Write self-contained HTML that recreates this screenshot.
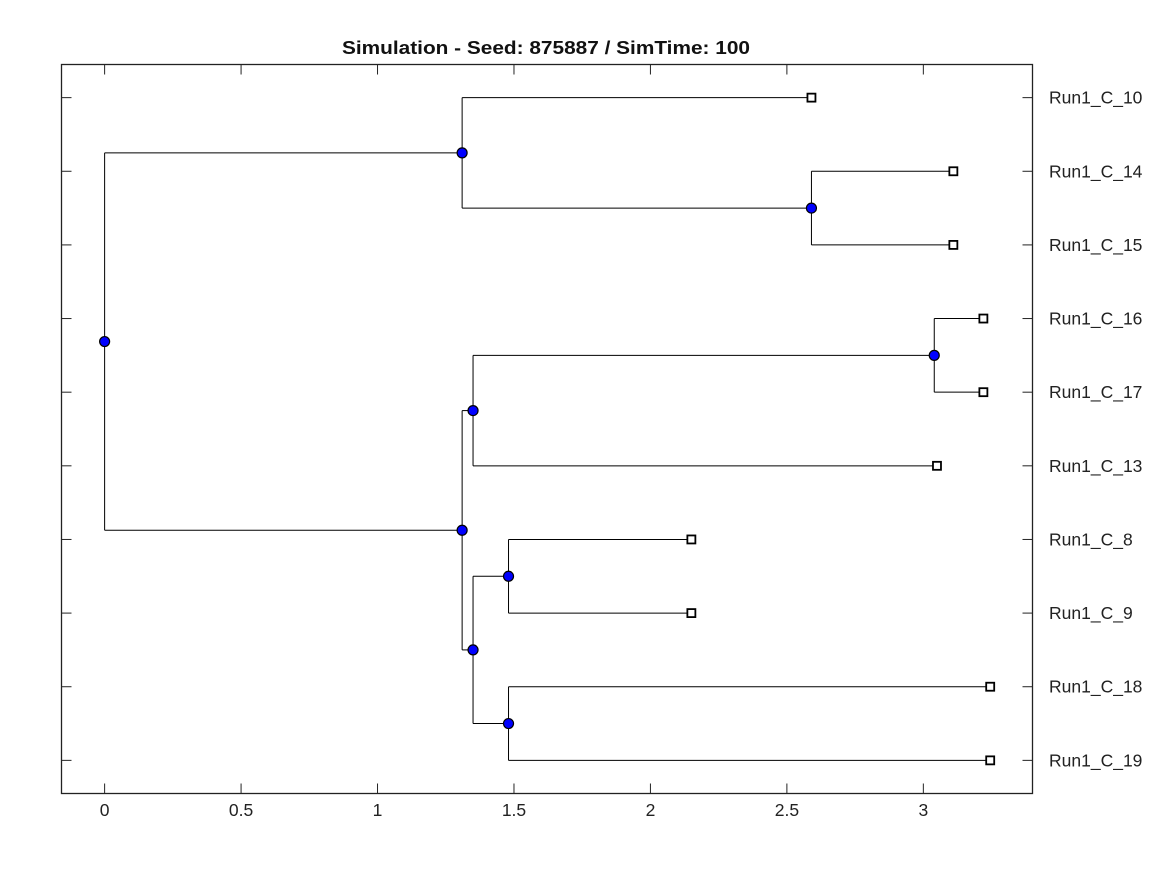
<!DOCTYPE html>
<html><head><meta charset="utf-8"><style>
body{margin:0;background:#fff;}
svg text{font-family:"Liberation Sans",sans-serif;}
</style></head><body>
<svg id="chart" width="1167" height="875" xmlns="http://www.w3.org/2000/svg">
<rect width="1167" height="875" fill="#fff"/>
<text x="546" y="54" text-anchor="middle" font-size="18" font-weight="bold" fill="#111" textLength="408" lengthAdjust="spacingAndGlyphs">Simulation - Seed: 875887 / SimTime: 100</text>
<g id="marks"></g>
<rect x="61.5" y="64.5" width="971" height="729" fill="none" stroke="#222" stroke-width="1.3"/>
<g id="axes"></g>
</svg>
<script>
const leafNames=["Run1_C_10","Run1_C_14","Run1_C_15","Run1_C_16","Run1_C_17","Run1_C_13","Run1_C_8","Run1_C_9","Run1_C_18","Run1_C_19"];
const leafHeights=[2.59,3.11,3.11,3.22,3.22,3.05,2.15,2.15,3.245,3.245];
const mergeLeft=[1,3,11,6,8,13,12,0,17];
const mergeRight=[2,4,5,7,9,14,15,10,16];
const mergeHeights=[2.59,3.04,1.35,1.48,1.48,1.35,1.31,1.31,0];
const xTicks=[0,0.5,1,1.5,2,2.5,3];
const xTickLabels=["0","0.5","1","1.5","2","2.5","3"];
const NS="http://www.w3.org/2000/svg";
const L=61.5,R=1032.5,T=64.5,B=793.5,xmin=-0.158,xmax=3.4,ymin=-0.45,ymax=leafNames.length-0.55;
const X=v=>L+(v-xmin)/(xmax-xmin)*(R-L);
const Y=i=>T+(i-ymin)/(ymax-ymin)*(B-T);
function mk(tag,attrs,parent){const e=document.createElementNS(NS,tag);for(const k in attrs)e.setAttribute(k,attrs[k]);parent.appendChild(e);return e;}
const marks=document.getElementById('marks'),axes=document.getElementById('axes');
const nx=leafHeights.slice(),ny=leafNames.map((_,i)=>i);
for(let m=0;m<mergeHeights.length;m++){
  const a=mergeLeft[m],b=mergeRight[m],h=mergeHeights[m];
  ny.push((ny[a]+ny[b])/2);nx.push(h);
  const v=mk('line',{x1:X(h),x2:X(h),y1:Y(ny[a]),y2:Y(ny[b]),stroke:'#000','stroke-width':1},marks);
  
  
  [a,b].forEach(c=>{const l=mk('line',{x1:X(h),x2:X(nx[c]),y1:Y(ny[c]),y2:Y(ny[c]),stroke:'#000','stroke-width':1},marks);
    
    });
}
for(let m=0;m<mergeHeights.length;m++){
  const i=leafNames.length+m;
  const c=mk('circle',{cx:X(nx[i]),cy:Y(ny[i]),r:5,fill:'#0000ff',stroke:'#000','stroke-width':1.2},marks);
  
  
}
leafNames.forEach((n,i)=>{
  const s=mk('rect',{x:X(leafHeights[i])-4,y:Y(i)-4,width:8,height:8,fill:'#fff',stroke:'#000','stroke-width':1.8},marks);
  
  
  const t1=mk('line',{x1:L,x2:L+10,y1:Y(i),y2:Y(i),stroke:'#222'},axes);
  
  
  const t2=mk('line',{x1:R-10,x2:R,y1:Y(i),y2:Y(i),stroke:'#222'},axes);
  
  
  const t=mk('text',{x:1049,y:Y(i)+6,'font-size':17.5,fill:'#222'},axes);t.textContent=n;
  
  
});
xTicks.forEach((v,i)=>{
  const a=mk('line',{x1:X(v),x2:X(v),y1:B-10,y2:B,stroke:'#222'},axes);
  
  
  const b=mk('line',{x1:X(v),x2:X(v),y1:T,y2:T+10,stroke:'#222'},axes);
  
  
  const t=mk('text',{x:X(v),y:816,'font-size':17.5,'text-anchor':'middle',fill:'#222'},axes);t.textContent=xTickLabels[i];
  
  
});
</script>
</body></html>
